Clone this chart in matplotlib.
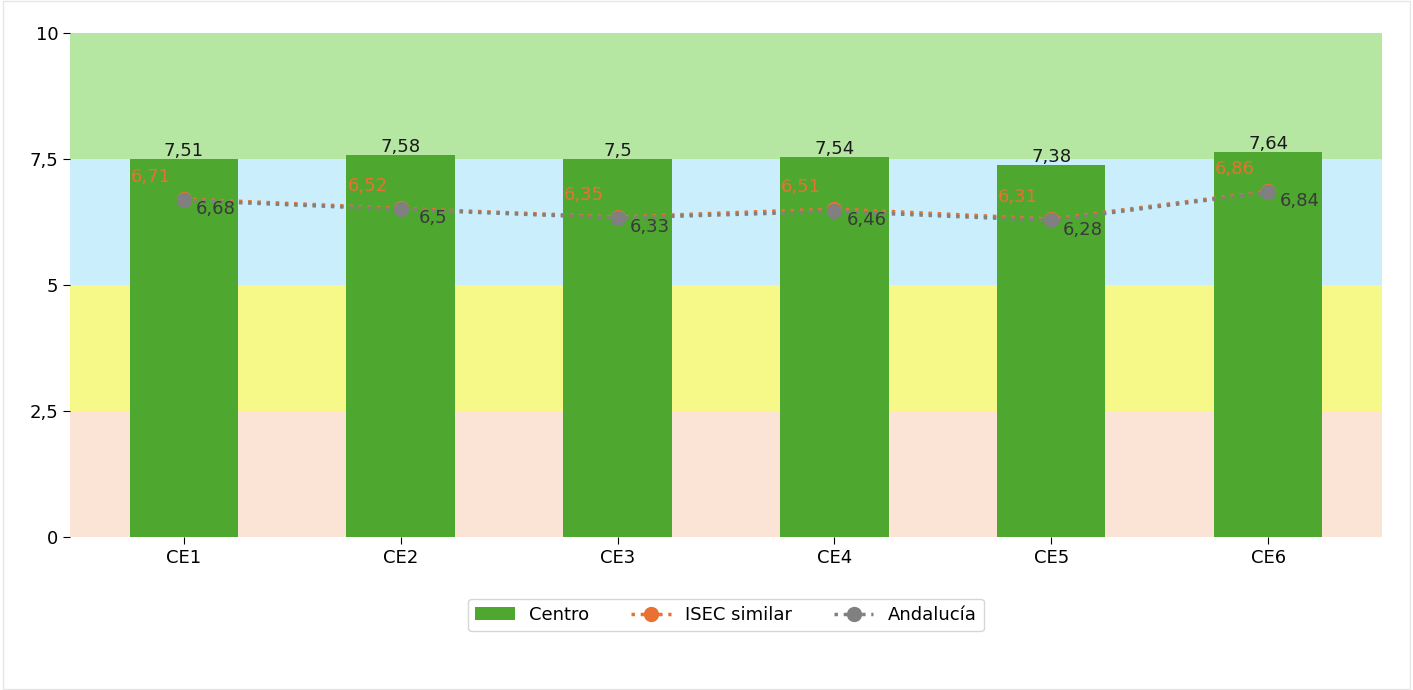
import matplotlib.pyplot as plt
from matplotlib.patches import Rectangle

categories = ["CE1", "CE2", "CE3", "CE4", "CE5", "CE6"]
centro = [7.51, 7.58, 7.5, 7.54, 7.38, 7.64]
isec = [6.71, 6.52, 6.35, 6.51, 6.31, 6.86]
andalucia = [6.68, 6.5, 6.33, 6.46, 6.28, 6.84]
bands = [(0, 2.5, "#fbe3d6"), (2.5, 5, "#f6f987"), (5, 7.5, "#caeefb"), (7.5, 10, "#b5e6a2")]
yticks = [0, 2.5, 5, 7.5, 10]


def fmt(v):
    return ("%g" % v).replace(".", ",")


fig = plt.figure(figsize=(14.13, 6.9), dpi=100)
fig.patches.append(Rectangle((0.002, 0.002), 0.996, 0.996, transform=fig.transFigure,
                             fill=False, edgecolor="#e6e6e6", linewidth=1))
ax = fig.add_axes([0.0495, 0.222, 0.9285, 0.730])

for lo, hi, c in bands:
    ax.axhspan(lo, hi, color=c, zorder=0, linewidth=0)

x = list(range(len(categories)))
b = ax.bar(x, centro, width=0.5, color="#4ea72e", label="Centro", zorder=2)
l1, = ax.plot(x, isec, linestyle=":", linewidth=2.5, marker="o", markersize=10,
              color="#e97132", label="ISEC similar", zorder=3)
l2, = ax.plot(x, andalucia, linestyle=":", linewidth=2.5, marker="o", markersize=10,
              color="#808080", label="Andalucía", zorder=4)

for i in x:
    ax.annotate(fmt(centro[i]), (i, centro[i]), xytext=(0, -1), textcoords="offset points",
                ha="center", va="bottom", fontsize=13, color="#1a1a1a", zorder=5)
    ax.annotate(fmt(isec[i]), (i, isec[i]), xytext=(-24, 16), textcoords="offset points",
                ha="center", va="center", fontsize=13, color="#e97132", zorder=5)
    ax.annotate(fmt(andalucia[i]), (i, andalucia[i]), xytext=(23, -6.5), textcoords="offset points",
                ha="center", va="center", fontsize=13, color="#3a3a3a", zorder=5)

ax.set_ylim(0, 10)
ax.set_yticks(yticks)
ax.set_yticklabels([fmt(v) for v in yticks])
ax.set_xticks(x)
ax.set_xticklabels(categories)
for s in ax.spines.values():
    s.set_visible(False)
ax.tick_params(labelsize=13, length=5)

ax.legend([b, l1, l2], ["Centro", "ISEC similar", "Andalucía"],
          loc="upper center", bbox_to_anchor=(0.5, -0.105), ncol=3, fontsize=13,
          handlelength=2.2, columnspacing=2.3)

fig.savefig("out.png", dpi=100)
